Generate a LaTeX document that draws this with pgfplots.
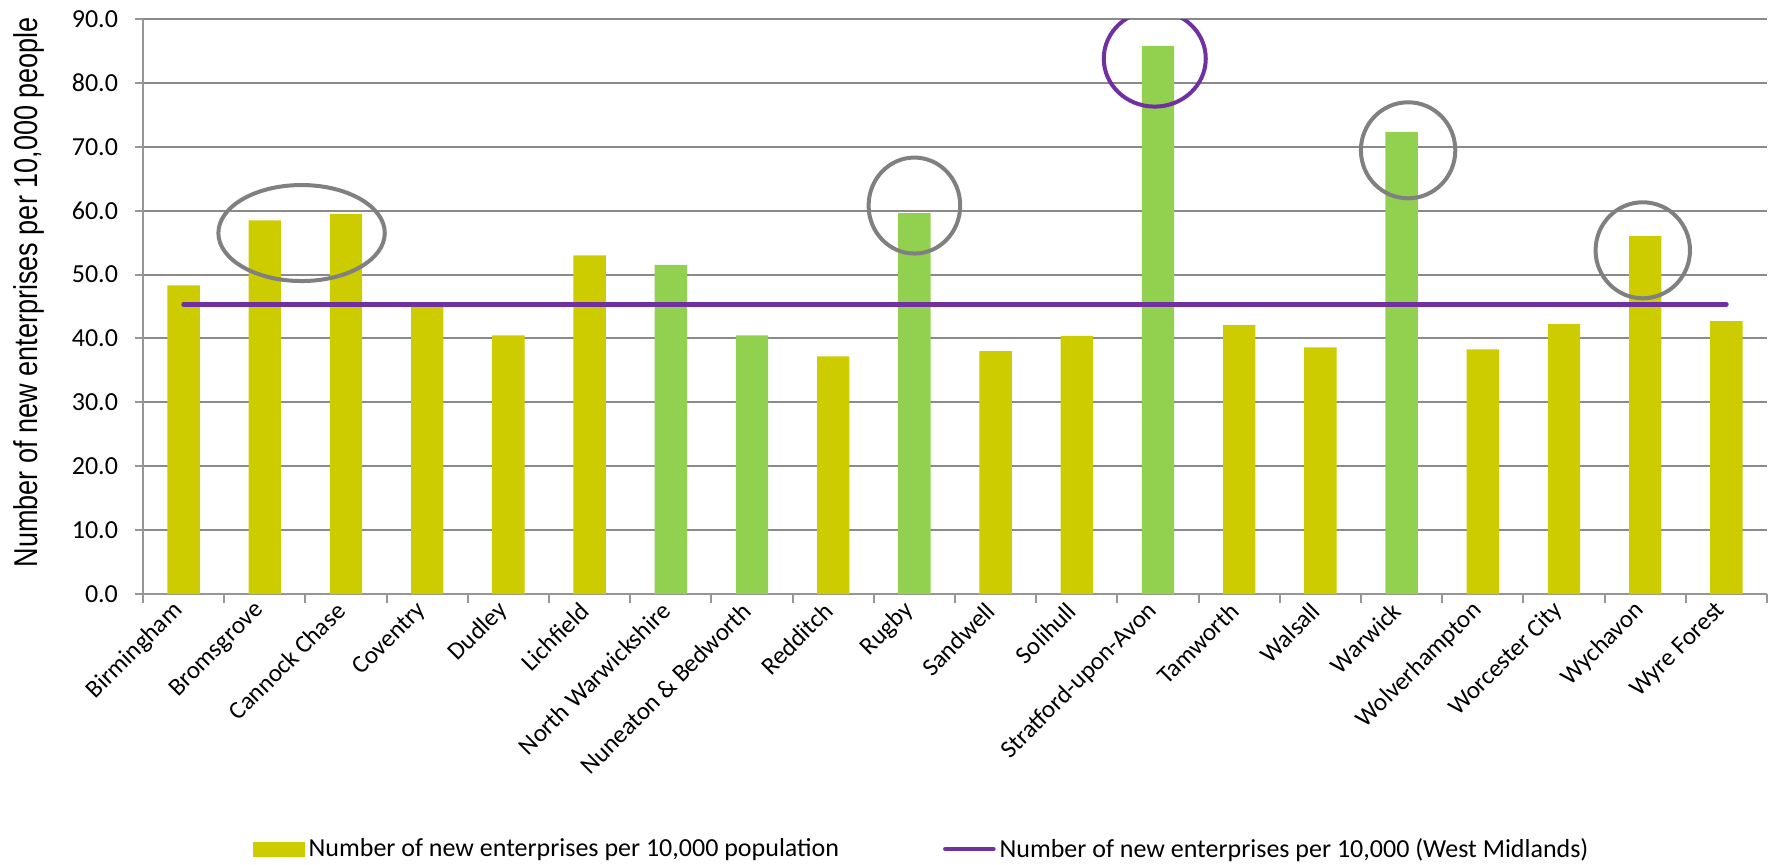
\documentclass[border=0pt]{standalone}
\usepackage{fontspec}
\setmainfont{Carlito}
\newfontfamily\ylabfont[FakeStretch=0.82]{Liberation Sans}
\usepackage{pgfplots}
\pgfplotsset{compat=1.18}
\definecolor{baryellow}{RGB}{204,204,0}
\definecolor{bargreen}{RGB}{146,208,80}
\definecolor{wmpurple}{RGB}{112,48,160}
\definecolor{gridgray}{RGB}{138,138,138}
\definecolor{axisgray}{RGB}{150,150,150}
\definecolor{ringgray}{RGB}{128,128,128}
\begin{document}
\begin{tikzpicture}
\path[use as bounding box] (0,0) rectangle (885pt,432pt);
\begin{axis}[
  at={(71.5pt,135pt)}, anchor=south west,
  scale only axis, width=812pt, height=287.5pt,
  xmin=-0.5, xmax=19.5, ymin=0, ymax=90,
  axis lines*=left,
  axis line style={draw=axisgray, line width=1pt},
  ytick={0,10,...,90},
  ymajorgrids,
  grid style={draw=gridgray, line width=1pt},
  /pgf/number format/assume math mode=true,
  yticklabel style={/pgf/number format/fixed, /pgf/number format/fixed zerofill, /pgf/number format/precision=1, font=\fontsize{13}{13}\selectfont, xshift=-5pt},
  tick align=outside,
  major tick length=4pt,
  minor tick length=4.5pt,
  ytick style={draw=axisgray, line width=1pt},
  xtick={0,...,19},
  xticklabels={Birmingham,Bromsgrove,Cannock Chase,Coventry,Dudley,Lichfield,North Warwickshire,Nuneaton \& Bedworth,Redditch,Rugby,Sandwell,Solihull,Stratford-upon-Avon,Tamworth,Walsall,Warwick,Wolverhampton,Worcester City,Wychavon,Wyre Forest},
  major x tick style={draw=none},
  minor xtick={-0.5,0.5,...,19.5},
  minor x tick style={draw=axisgray, line width=1pt},
  xticklabel style={rotate=45, anchor=east, font=\fontsize{12.5}{12.5}\selectfont},
  ylabel={Number of new enterprises per 10,000 people},
  ylabel style={font=\ylabfont\fontsize{16.5}{16.5}\selectfont, at={(axis description cs:-0.070,0.525)}, anchor=center},
  legend columns=2,
  legend style={draw=none, fill=none, at={(0.480,-0.4435)}, anchor=center,
    font=\fontsize{13}{14}\selectfont,
    /tikz/every even column/.append style={column sep=50pt}},
]
\addplot[ybar, bar width=16.2pt, bar shift=0pt, fill=baryellow, draw=none,
  legend image code/.code={\fill[baryellow] (0pt,-3.75pt) rectangle (26pt,3.75pt);}]
  coordinates {(0,48.3) (1,58.5) (2,59.5) (3,45.1) (4,40.5) (5,53.0) (8,37.2) (10,38.0) (11,40.4) (13,42.1) (14,38.6) (16,38.3) (17,42.3) (18,56.0) (19,42.7)};
\addlegendentry{Number of new enterprises per 10,000 population}
\addplot[ybar, bar width=16.2pt, bar shift=0pt, fill=bargreen, draw=none, forget plot]
  coordinates {(6,51.5) (7,40.5) (9,59.6) (12,85.8) (15,72.3)};
\addplot[wmpurple, line width=2.3pt, line cap=round, mark=none,
  legend image code/.code={\draw[wmpurple, line width=2.3pt, line cap=round] (1pt,0pt) -- (25pt,0pt);}]
  coordinates {(0,45.35) (19,45.35)};
\addlegendentry{Number of new enterprises per 10,000 (West Midlands)}
\draw[ringgray, line width=2pt] (axis cs:1.453,56.5) ellipse [x radius=41.6pt, y radius=24pt];
\draw[ringgray, line width=2pt] (axis cs:9.0,60.8) ellipse [x radius=22.9pt, y radius=24pt];
\draw[wmpurple, line width=2pt] (axis cs:11.96,83.8) ellipse [x radius=25.5pt, y radius=24pt];
\draw[ringgray, line width=2pt] (axis cs:15.08,69.45) ellipse [x radius=23.6pt, y radius=24pt];
\draw[ringgray, line width=2pt] (axis cs:17.97,53.8) ellipse [x radius=23.6pt, y radius=24pt];
\end{axis}
\end{tikzpicture}
\end{document}
